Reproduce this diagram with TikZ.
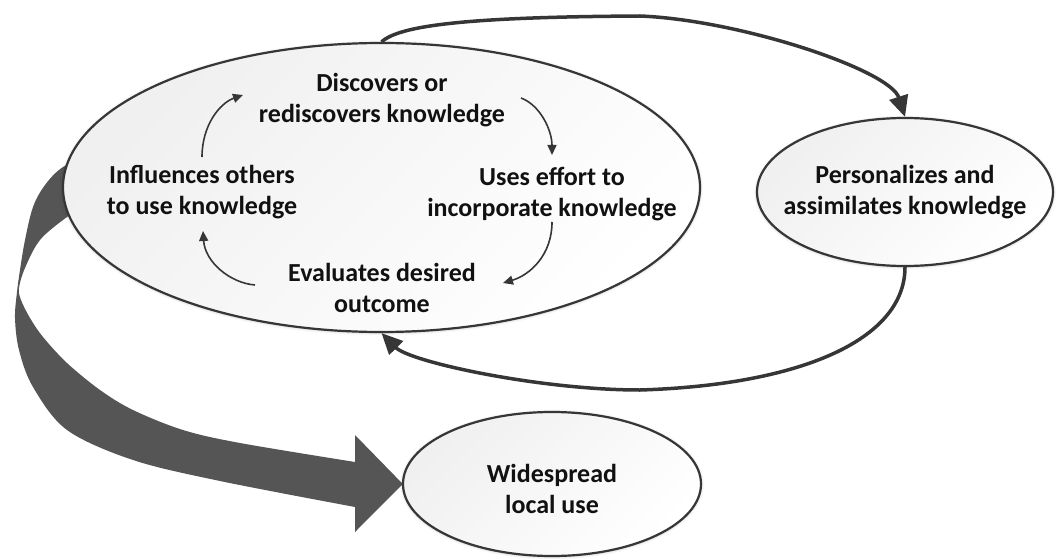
\documentclass[tikz,border=0pt]{standalone}
\usepackage{fontspec}
\setmainfont{Carlito}
\usetikzlibrary{arrows.meta,shapes.geometric,shadows.blur}
\definecolor{linec}{HTML}{363636}
\definecolor{fatc}{HTML}{555555}
\definecolor{txtc}{HTML}{111111}
\begin{document}
\begin{tikzpicture}[x=1pt,y=-1pt,
  bub/.style={ellipse, draw=linec, line width=2.2pt, inner sep=0pt,
    top color=black!6, bottom color=white, shading angle=45,
    blur shadow={shadow xshift=0pt, shadow yshift=-0.5pt, shadow blur radius=3pt, shadow opacity=30}},
  lbl/.style={font=\fontsize{26}{31.5}\selectfont\bfseries, text=txtc, align=center, inner sep=0pt},
  conn/.style={draw=linec, line width=3.5pt, -{Triangle[length=21pt,width=19pt]}},
  thinarr/.style={draw=linec, line width=1.6pt, -{Triangle[length=10pt,width=9pt]}}]
\useasboundingbox (0,0) rectangle (1057,559);

% ellipse nodes (positions)
\coordinate (bigc) at (381.5,187.5);
\node[ellipse, minimum width=298pt, minimum height=144pt, inner sep=0pt] (wideref) at (552,484) {};

% fat curved arrow (drawn behind the big ellipse)
\fill[fatc] plot[smooth, tension=0.55] coordinates {(95,152) (63,167) (45,185) (33,207) (25,240) (20,270) (17,292) (15,318) (19,350) (33,387) (67,430) (133,460) (220,481) (355,507)}
  -- (355,532) -- (wideref.west) -- (355,435)
  -- plot[smooth, tension=0.55] coordinates {(355,462) (240,443) (183,430) (133,410) (100,390) (67,363) (43,337) (30,318) (21,300) (19,288) (25,268) (40,240) (67,217) (100,195)}
  -- cycle;

\node[bub, minimum width=637pt, minimum height=289pt] (big) at (bigc) {};
\node[bub, minimum width=296pt, minimum height=148pt] (pers) at (905,192) {};
\node[bub, minimum width=298pt, minimum height=144pt] (wide) at (wideref) {};

% texts
\node[lbl] (disc) at (382,100) {Discovers or\\rediscovers knowledge};
\node[lbl] (infl) at (202,192) {Influences others\\to use knowledge};
\node[lbl] (uses) at (552,194) {Uses effort to\\incorporate knowledge};
\node[lbl] (eval) at (382,288) {Evaluates desired\\outcome};
\node[lbl] (perst) at (pers) {Personalizes and\\assimilates knowledge};
\node[lbl] (widet) at (552,489) {Widespread\\local use};

% outer connectors
\draw[conn] (big.north) .. controls (400,25) and (470,17) .. (640,16)
  .. controls (740,20) and (890,70) .. (pers.north);
\draw[conn] (pers.south) .. controls (905,340) and (800,385) .. (640,390)
  .. controls (540,390) and (410,362) .. (big.south);

% inner cycle arrows
\coordinate (a1s) at (202,157); \coordinate (a1e) at (243,95);
\coordinate (a2s) at (521,98);  \coordinate (a2e) at (552,155);
\coordinate (a3s) at (552,222); \coordinate (a3e) at (503,283);
\coordinate (a4s) at (255,285); \coordinate (a4e) at (203,231);
\draw[thinarr] (a1s) .. controls (202,125) and (220,103) .. (a1e);
\draw[thinarr] (a2s) .. controls (540,105) and (552,130) .. (a2e);
\draw[thinarr] (a3s) .. controls (552,255) and (530,275) .. (a3e);
\draw[thinarr] (a4s) .. controls (230,283) and (205,262) .. (a4e);
\end{tikzpicture}
\end{document}
